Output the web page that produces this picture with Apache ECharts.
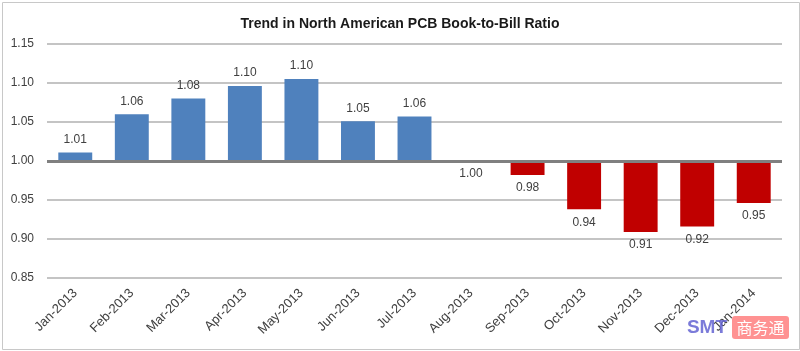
<!DOCTYPE html>
<html>
<head>
<meta charset="utf-8">
<script src="https://cdn.jsdelivr.net/npm/echarts@6/dist/echarts.min.js"></script>
<style>
  html, body { margin: 0; padding: 0; background: #fff; }
  #chart { width: 800px; height: 351px; }
</style>
</head>
<body>
<div id="chart"></div>
<script>
  // months on the category axis
  const months = ['Jan-2013', 'Feb-2013', 'Mar-2013', 'Apr-2013', 'May-2013', 'Jun-2013',
    'Jul-2013', 'Aug-2013', 'Sep-2013', 'Oct-2013', 'Nov-2013', 'Dec-2013', 'Jan-2014'];
  // book-to-bill ratio
  const ratio = [1.011, 1.060, 1.080, 1.096, 1.105, 1.051, 1.057, 1.000, 0.982, 0.938, 0.909, 0.916, 0.946];
  // label text as printed above / below the bars
  const ratioLabels = ['1.01', '1.06', '1.08', '1.10', '1.10', '1.05', '1.06', '1.00', '0.98', '0.94', '0.91', '0.92', '0.95'];
  const baseline = 1.0;

  const chart = echarts.init(document.getElementById('chart'));
  const font = 'Liberation Sans, Arial, sans-serif';

  chart.setOption({
    animation: false,
    title: {
      text: 'Trend in North American PCB Book-to-Bill Ratio',
      left: 'center',
      top: 12,
      textStyle: { fontFamily: font, fontSize: 14, fontWeight: 'bold', color: '#1a1a1a' }
    },
    grid: { left: 47, right: 18, top: 44, bottom: 73 },
    xAxis: {
      type: 'category',
      data: months,
      axisLine: { show: false },
      axisTick: { show: false },
      axisLabel: {
        rotate: 45,
        margin: 13,
        interval: 0,
        fontFamily: font,
        fontSize: 13,
        color: '#404040'
      }
    },
    yAxis: {
      type: 'value',
      // plotted as offset from 1.00 so the bars grow from the baseline
      min: -0.15,
      max: 0.15,
      interval: 0.05,
      axisLine: { show: false },
      axisTick: { show: false },
      axisLabel: {
        margin: 13,
        fontFamily: font,
        fontSize: 12,
        color: '#404040',
        formatter: (v) => (baseline + v).toFixed(2)
      },
      splitLine: { lineStyle: { color: '#c4c4c4', width: 2 } }
    },
    series: [
      {
        type: 'bar',
        barCategoryGap: '40%',
        data: ratio.map((v) => {
          const up = v > baseline;
          return {
            value: v - baseline,
            itemStyle: { color: up ? '#4f81bd' : '#c00000' },
            label: { position: up ? 'top' : 'bottom' }
          };
        }),
        label: {
          show: true,
          distance: 7,
          fontFamily: font,
          fontSize: 12,
          color: '#404040',
          formatter: (p) => ratioLabels[p.dataIndex]
        },
        markLine: {
          silent: true,
          symbol: 'none',
          label: { show: false },
          lineStyle: { color: '#808080', width: 3, type: 'solid' },
          data: [{ yAxis: 0 }]
        }
      }
    ],
    graphic: [
      {
        type: 'rect',
        left: 0,
        top: 0,
        z: -1,
        shape: { x: 0.5, y: 0.5, width: 797, height: 347 },
        style: { fill: 'none', stroke: '#c8c8c8', lineWidth: 1 }
      },
      {
        type: 'rect',
        z: 100,
        shape: { x: 732, y: 316, width: 57, height: 23, r: 3 },
        style: { fill: 'rgba(255,110,110,0.75)' }
      },
      {
        type: 'text',
        z: 101,
        x: 760.5,
        y: 327.5,
        style: {
          text: '商务通',
          fill: '#ffffff',
          font: '16px "Noto Sans CJK SC"',
          align: 'center',
          verticalAlign: 'middle'
        }
      },
      {
        type: 'text',
        z: 101,
        x: 707,
        y: 328,
        style: {
          text: 'SMT',
          fill: 'rgba(100,100,210,0.85)',
          font: 'bold 19px "Liberation Sans"',
          align: 'center',
          verticalAlign: 'middle'
        }
      }
    ]
  });
</script>
</body>
</html>
